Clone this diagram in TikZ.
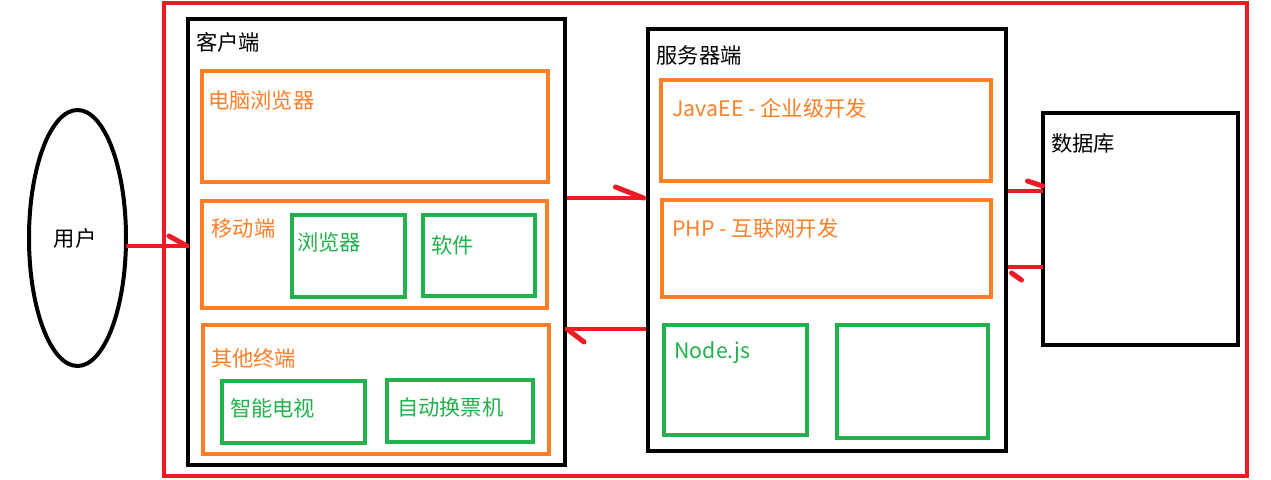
\documentclass[tikz,border=0pt]{standalone}
\usepackage{fontspec}
\setmainfont{Noto Sans CJK SC}
\usetikzlibrary{shapes.geometric,calc}
\definecolor{pred}{HTML}{ED1C24}
\definecolor{porange}{HTML}{FF7F27}
\definecolor{pgreen}{HTML}{22B14C}
\begin{document}
\begin{tikzpicture}[x=1pt,y=-1pt,
  box/.style={draw, rectangle, line width=4pt, inner sep=0pt, outer sep=0pt},
  blackbox/.style={box, draw=black},
  orangebox/.style={box, draw=porange},
  greenbox/.style={box, draw=pgreen},
  txt/.style={inner sep=0pt, outer sep=0pt, anchor=base west, font=\fontsize{21.3}{25}\selectfont},
  blacktxt/.style={txt, text=black},
  orangetxt/.style={txt, text=porange},
  greentxt/.style={txt, text=pgreen},
  redline/.style={draw=pred, line width=4.5pt},
  barb/.style={draw=pred, line width=5pt, line cap=round}
]
\useasboundingbox (0,0) rectangle (1271,479);
\fill[white] (0,0) rectangle (1271,479);

% outer red frame
\node[box, draw=pred, minimum width=1083pt, minimum height=473pt] (frame) at (705.5,239.5) {};

% user
\node[draw=black, line width=4pt, ellipse, minimum width=97pt, minimum height=256pt, inner sep=0pt, outer sep=0pt, font=\fontsize{21.3}{25}\selectfont] (user) at (77.5,238) {};
\node[txt, anchor=base] (usertxt) at (75,246.5) {用户};

% client side
\node[blackbox, minimum width=377pt, minimum height=446pt] (client) at (376.5,242) {};
\node[blacktxt] (clienttxt) at (196,50.5) {客户端};
\node[orangebox, minimum width=346pt, minimum height=111pt] (pc) at (375,126.5) {};
\node[orangetxt] (pctxt) at (208,108.5) {电脑浏览器};
\node[orangebox, minimum width=345pt, minimum height=107pt] (mobile) at (374.5,254.5) {};
\node[orangetxt] (mobiletxt) at (211.5,236.5) {移动端};
\node[greenbox, minimum width=113.5pt, minimum height=81.5pt] (mbrowser) at (348.25,255.75) {};
\node[greentxt] (mbrowsertxt) at (297,250.5) {浏览器};
\node[greenbox, minimum width=112.5pt, minimum height=81pt] (msoft) at (478.75,255.5) {};
\node[greentxt] (msofttxt) at (431,253.5) {软件};
\node[orangebox, minimum width=346pt, minimum height=129pt] (other) at (376,389.5) {};
\node[orangetxt] (othertxt) at (211,366.5) {其他终端};
\node[greenbox, minimum width=143pt, minimum height=62pt] (tv) at (293,411.5) {};
\node[greentxt] (tvtxt) at (230,416.5) {智能电视};
\node[greenbox, minimum width=146.5pt, minimum height=62.5pt] (ticket) at (459.75,410.75) {};
\node[greentxt] (tickettxt) at (397,415.5) {自动换票机};

% server side
\node[blackbox, minimum width=358pt, minimum height=422.5pt] (server) at (826.5,239.75) {};
\node[blacktxt] (servertxt) at (656.5,63.5) {服务器端};
\node[orangebox, minimum width=330pt, minimum height=101pt] (java) at (825.5,130) {};
\node[orangetxt] (javatxt) at (672.5,116.5) {JavaEE - 企业级开发};
\node[orangebox, minimum width=329.5pt, minimum height=97.5pt] (php) at (826.25,248.25) {};
\node[orangetxt] (phptxt) at (672.5,236.5) {PHP - 互联网开发};
\node[greenbox, minimum width=143.7pt, minimum height=110.5pt] (nodejs) at (735.5,379.75) {};
\node[greentxt] (nodejstxt) at (674.5,358.3) {Node.js};
\node[greenbox, minimum width=150.8pt, minimum height=113pt] (empty) at (912.3,381) {};

% database
\node[blackbox, minimum width=195pt, minimum height=232pt] (db) at (1140,228.5) {};
\node[blacktxt] (dbtxt) at (1051,151.5) {数据库};

% connectors (drawn on top; half-arrow barbs)
\draw[redline] (user.east |- 0,246) -- ($(client.west |- 0,246)+(-1,0)$);
\draw[barb] ($(client.west |- 0,246)+(-1,0)$) -- ++(-18,-10);

\draw[redline] ($(client.east |- 0,198)+(2,0)$) -- ($(server.west |- 0,198)+(-4,0)$);
\draw[barb] ($(server.west |- 0,198)+(-4,0)$) -- ++(-28,-11);

\draw[redline] ($(server.west |- 0,329)+(-2,0)$) -- ($(client.east |- 0,329)+(2,0)$);
\draw[barb] ($(client.east |- 0,329)+(2,0)$) -- ++(17,13);

\draw[redline] ($(server.east |- 0,191)+(2,0)$) -- ($(db.west |- 0,191)+(0,0)$);
\draw[barb] ($(db.west |- 0,186)+(0,0)$) -- ++(-15,-5);

\draw[redline] ($(db.west |- 0,267)+(0,0)$) -- ($(server.east |- 0,267)+(2,0)$);
\draw[barb] ($(server.east |- 0,273)+(6,0)$) -- ++(10,7);
\end{tikzpicture}
\end{document}
